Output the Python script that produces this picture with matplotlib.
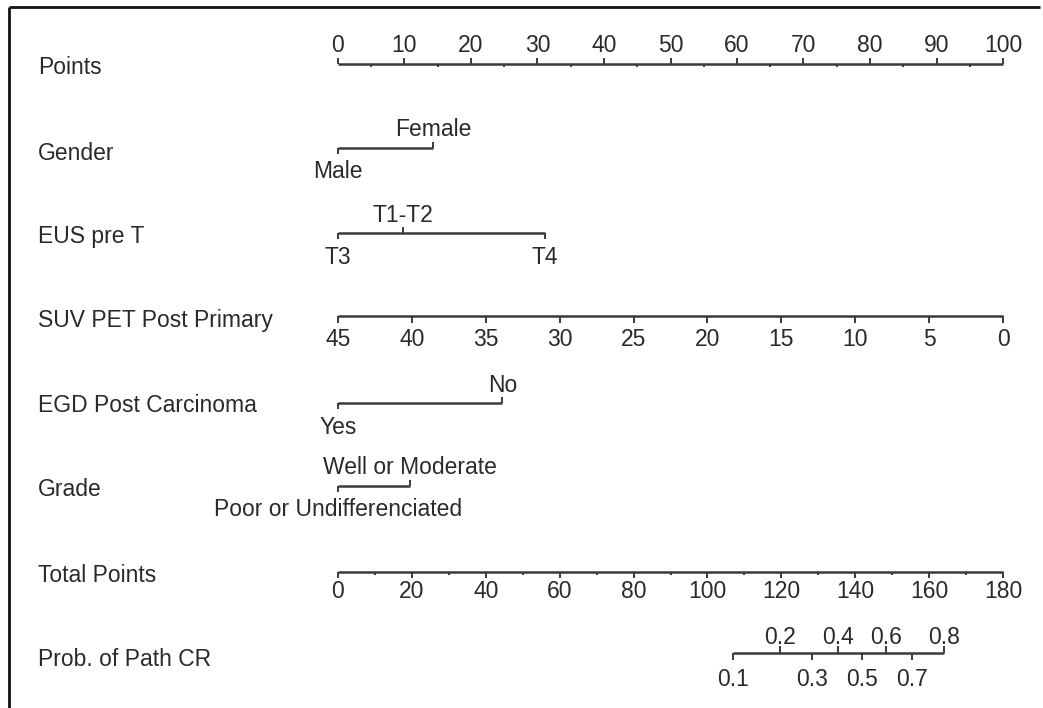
import matplotlib
matplotlib.use("Agg")
import matplotlib.pyplot as plt
import numpy as np

# ---------------- data ----------------
row_labels = ["Points", "Gender", "EUS pre T", "SUV PET Post Primary",
              "EGD Post Carcinoma", "Grade", "Total Points", "Prob. of Path CR"]

points_ticks = [0, 10, 20, 30, 40, 50, 60, 70, 80, 90, 100]
points_minor = [5, 15, 25, 35, 45, 55, 65, 75, 85, 95]

gender_levels = ["Male", "Female"]
gender_points = [0.0, 14.3]

eus_levels = ["T3", "T1-T2", "T4"]
eus_points = [0.0, 9.8, 31.1]

suv_ticks = [45, 40, 35, 30, 25, 20, 15, 10, 5, 0]
suv_max = 45

egd_levels = ["Yes", "No"]
egd_points = [0.0, 24.7]

grade_levels = ["Poor or Undifferenciated", "Well or Moderate"]
grade_points = [0.0, 10.8]

total_ticks = [0, 20, 40, 60, 80, 100, 120, 140, 160, 180]
total_minor = [10, 30, 50, 70, 90, 110, 130, 150, 170]
total_max = 180

prob_ticks = [0.1, 0.2, 0.3, 0.4, 0.5, 0.6, 0.7, 0.8]
prob_total_points = [107.0, 119.7, 128.3, 135.3, 141.8, 148.3, 155.3, 164.0]

# ---------------- layout ----------------
W, H = 1043, 708
x0_px, x100_px = 338, 1003
ppx = (x100_px - x0_px) / 100.0
row_y = [64, 148, 233, 316, 403, 486, 572, 653]
label_y = [68, 153, 237, 321, 406, 490, 576, 660]
label_x_px = 38

plt.rcParams['font.family'] = ['Liberation Sans', 'DejaVu Sans']
FS = 16.5
TC = "#2a2a2a"
LC = "#3a3a3a"
LW = 1.8

fig = plt.figure(figsize=(W / 100, H / 100), dpi=100)
ax = fig.add_axes([0, 0, 1, 1])
ax.set_xlim(-x0_px / ppx, (W - x0_px) / ppx)
ax.set_ylim(H, 0)
ax.axis("off")

def px2pt(px):
    return (px - x0_px) / ppx

# frame (left and top)
ax.plot([px2pt(9), px2pt(9)], [H, 7], color="#111111", lw=2, solid_capstyle="butt")
ax.plot([px2pt(9), px2pt(1040)], [7, 7], color="#111111", lw=2, solid_capstyle="butt")

# row labels
for lab, y in zip(row_labels, label_y):
    ax.text(px2pt(label_x_px), y, lab, fontsize=FS, color=TC, ha="left", va="center")

def hline(xs, y):
    ax.plot([min(xs), max(xs)], [y, y], color=LC, lw=LW, solid_capstyle="butt")

def tick(x, y, length):
    ax.plot([x, x], [y, y + length], color=LC, lw=1.4, solid_capstyle="butt")

# Points axis (labels above)
y = row_y[0]
hline(points_ticks, y)
for v in points_ticks:
    tick(v, y, -6)
    ax.text(v, y - 19, str(v), fontsize=FS, color=TC, ha="center", va="center")
for v in points_minor:
    tick(v, y, 3)

# categorical rows: alternate below/above in order of position
def categorical(levels, pts, y):
    hline(pts, y)
    order = np.argsort(pts)
    for k, i in enumerate(order):
        if k % 2 == 0:
            tick(pts[i], y, 6)
            ax.text(pts[i], y + 24, levels[i], fontsize=FS, color=TC, ha="center", va="center")
        else:
            tick(pts[i], y, -6)
            ax.text(pts[i], y - 18, levels[i], fontsize=FS, color=TC, ha="center", va="center")

categorical(gender_levels, gender_points, row_y[1])
categorical(eus_levels, eus_points, row_y[2])

# SUV axis (labels below)
y = row_y[3]
suv_x = [(suv_max - v) / suv_max * 100 for v in suv_ticks]
hline(suv_x, y)
for v, xx in zip(suv_ticks, suv_x):
    tick(xx, y, 7)
    ax.text(xx, y + 23, str(v), fontsize=FS, color=TC, ha="center", va="center")

categorical(egd_levels, egd_points, row_y[4])
categorical(grade_levels, grade_points, row_y[5])

# Total points axis (labels below)
y = row_y[6]
tx = [v / total_max * 100 for v in total_ticks]
hline(tx, y)
for v, xx in zip(total_ticks, tx):
    tick(xx, y, 6)
    ax.text(xx, y + 20, str(v), fontsize=FS, color=TC, ha="center", va="center")
for v in total_minor:
    tick(v / total_max * 100, y, 3)

# Probability axis
y = row_y[7]
px_ = [v / total_max * 100 for v in prob_total_points]
hline(px_, y)
for k, (p, xx) in enumerate(zip(prob_ticks, px_)):
    if k % 2 == 0:
        tick(xx, y, 7)
        ax.text(xx, y + 26, f"{p:.1f}", fontsize=FS, color=TC, ha="center", va="center")
    else:
        tick(xx, y, -7)
        ax.text(xx, y - 16, f"{p:.1f}", fontsize=FS, color=TC, ha="center", va="center")

fig.savefig("out.png", dpi=100, facecolor="white")
